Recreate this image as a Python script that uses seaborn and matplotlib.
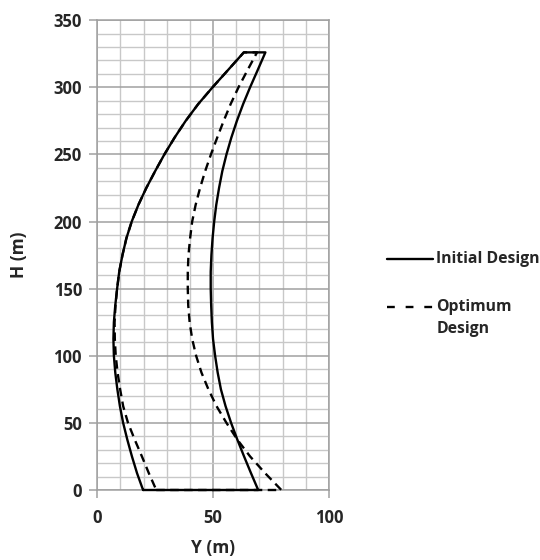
import matplotlib
matplotlib.use("Agg")
import matplotlib.pyplot as plt
from matplotlib.ticker import MultipleLocator
from matplotlib.lines import Line2D
import seaborn as sns
import pandas as pd

# ---- data ----
heights = [0, 12.5, 25, 37.5, 50, 62.5, 75, 87.5, 100, 112.5, 125, 137.5, 150, 162.5,
           175, 187.5, 200, 212.5, 225, 237.5, 250, 262.5, 275, 287.5, 300, 312.5, 326]
initial_left = [19.8, 17.2, 15.0, 13.0, 11.2, 9.8, 8.7, 7.8, 7.2, 7.0, 7.2, 7.8, 8.6, 9.5,
                10.9, 12.6, 14.9, 17.8, 21.2, 25.0, 29.0, 33.4, 38.2, 43.6, 49.8, 56.3, 63.3]
initial_right = [69.5, 66.4, 63.4, 60.5, 57.8, 55.4, 53.4, 52.0, 50.9, 50.0, 49.5, 49.2, 49.0, 49.0,
                 49.3, 49.8, 50.5, 51.4, 52.6, 54.0, 55.8, 57.9, 60.3, 63.0, 66.0, 69.2, 72.6]
optimum_left = [25.5, 22.3, 19.3, 16.2, 13.3, 11.2, 9.9, 8.8, 8.0, 7.6, 7.5, 7.9, 8.6, 9.5,
                10.9, 12.6, 14.9, 17.8, 21.2, 25.0, 29.0, 33.4, 38.2, 43.6, 49.8, 56.3, 63.3]
optimum_right = [79.5, 72.5, 66.0, 60.5, 55.8, 51.5, 48.0, 45.0, 42.7, 41.0, 39.9, 39.3, 39.1, 39.1,
                 39.4, 40.1, 41.0, 42.5, 44.4, 46.6, 49.1, 51.8, 54.6, 57.6, 61.0, 64.8, 69.0]
series_names = ["Initial Design", "Optimum Design"]
legend_lines = [["Initial Design"], ["Optimum", "Design"]]
x_ticks = [0, 50, 100]
y_ticks = [0, 50, 100, 150, 200, 250, 300, 350]


def outline(left, right, name):
    xs = [left[0]] + right + left[::-1]
    ys = [0] + heights + heights[::-1]
    return pd.DataFrame({"Y": xs, "H": ys, "design": name})


df = pd.concat([
    outline(initial_left, initial_right, series_names[0]),
    outline(optimum_left, optimum_right, series_names[1]),
], ignore_index=True)

sns.set_style("white")
plt.rcParams["font.family"] = ["Open Sans", "DejaVu Sans"]

fig = plt.figure(figsize=(5.4, 5.6), dpi=100)
ax = fig.add_axes([0.18, 0.125, 0.429, 0.839])

LW = 1.7
sns.lineplot(
    data=df, x="Y", y="H", hue="design", style="design",
    hue_order=series_names[::-1], style_order=series_names[::-1],
    palette={series_names[0]: "black", series_names[1]: "black"},
    dashes={series_names[0]: "", series_names[1]: (3.6, 2.3)},
    sort=False, estimator=None, units="design", linewidth=LW,
    ax=ax, legend=False,
)
for ln in ax.lines:
    ln.set_clip_on(False)
    ln.set_zorder(4)
    ln.set_solid_joinstyle("round")

ax.set_xlim(0, 100)
ax.set_ylim(0, 350)
ax.xaxis.set_minor_locator(MultipleLocator(10))
ax.yaxis.set_minor_locator(MultipleLocator(10))
ax.set_xticks(x_ticks)
ax.set_yticks(y_ticks)
ax.grid(which="minor", color="#c8c8c8", linewidth=1.0)
ax.grid(which="major", color="#a0a0a0", linewidth=1.1)
ax.set_axisbelow(True)
for s in ax.spines.values():
    s.set_color("#a0a0a0")
    s.set_linewidth(1.1)
ax.tick_params(which="major", direction="out", length=6, width=1.1, color="#a0a0a0",
               labelsize=12, bottom=True, left=True)
ax.tick_params(axis="y", pad=5)
ax.tick_params(axis="x", pad=8)
ax.tick_params(which="minor", length=0)
for lab in ax.get_xticklabels() + ax.get_yticklabels():
    lab.set_fontweight("bold")
ax.set_xlabel("Y (m)", fontsize=12.5, fontweight="bold")
ax.set_ylabel("H (m)", fontsize=12.5, fontweight="bold")
ax.xaxis.set_label_coords(0.5, -0.105)
ax.yaxis.set_label_coords(-0.30, 0.5)

# legend drawn at the right of the plot
fig.add_artist(Line2D([0.7167, 0.8019], [0.5375, 0.5375], color="black", linewidth=LW,
                      transform=fig.transFigure))
fig.add_artist(Line2D([0.7167, 0.8019], [0.4518, 0.4518], color="black", linewidth=LW,
                      dashes=(3.3, 4.6), transform=fig.transFigure))
fig.text(0.808, 0.5375, legend_lines[0][0], fontsize=11.3, fontweight="bold", va="center", ha="left")
fig.text(0.808, 0.4518, legend_lines[1][0], fontsize=11.3, fontweight="bold", va="center", ha="left")
fig.text(0.808, 0.4125, legend_lines[1][1], fontsize=11.3, fontweight="bold", va="center", ha="left")

fig.savefig("out.png", dpi=100)
